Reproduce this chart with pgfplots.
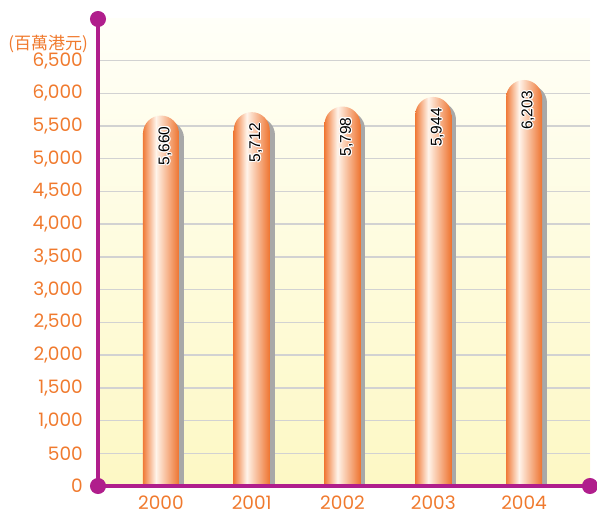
\documentclass[border=0pt]{standalone}
\usepackage{pgfplots}
\usepackage{pgfplotstable}
\pgfplotsset{compat=1.18}
\usepackage{fontspec}
\setmainfont{Poppins}
\newfontfamily\cjk{Noto Sans CJK TC}
\newfontfamily\lab{Liberation Sans}
\usepackage{contour}
\contourlength{1pt}
\usetikzlibrary{arrows.meta}

\definecolor{axc}{HTML}{B01E8C}
\definecolor{txc}{HTML}{F07A2E}
\definecolor{bL}{HTML}{F07A38}
\definecolor{bW}{HTML}{FFF4EA}
\definecolor{bR}{HTML}{EE7430}
\definecolor{shd}{HTML}{A8A8A8}
\definecolor{bgT}{HTML}{FFFFF8}
\definecolor{bgB}{HTML}{FDF8C4}
\definecolor{grd}{HTML}{D2D2D2}

\pgfdeclarehorizontalshading{barshade}{100bp}{color(0bp)=(bL); color(25bp)=(bL); color(43bp)=(bW); color(75bp)=(bR); color(100bp)=(bR)}

\pgfkeys{/pgf/number format/.cd,1000 sep={,},assume math mode=true}

\pgfplotsset{
  layers/mylayers/.define layer set={
    axis background,axis grid,axis ticks,pre main,main,axis lines,axis tick labels,
    axis descriptions,axis foreground
  }{
    grid style= {/pgfplots/on layer=axis grid},
    tick style= {/pgfplots/on layer=axis ticks},
    axis line style= {/pgfplots/on layer=axis lines},
    label style= {/pgfplots/on layer=axis descriptions},
    legend style= {/pgfplots/on layer=axis descriptions},
    title style= {/pgfplots/on layer=axis descriptions},
    colorbar style= {/pgfplots/on layer=axis descriptions},
    ticklabel style= {/pgfplots/on layer=axis tick labels},
    axis background@ style={/pgfplots/on layer=axis background},
    3d box foreground style={/pgfplots/on layer=axis foreground},
  },
  orbar/.style={ybar, bar width=36bp, bar shift=0pt, draw=none, shading=barshade, shade,
    nodes near coords={},
    every node near coord/.append style={circle, minimum size=36bp, inner sep=0pt, anchor=center, shading=barshade, shade}},
}

\pgfplotstableread{
x v
0 5660
1 5712
2 5798
3 5944
4 6203
}\data

\begin{document}
\begin{tikzpicture}
\begin{axis}[
  name=ax,
  set layers=mylayers,
  scale only axis,
  width=492bp, height=467bp,
  xmin=-0.694, xmax=4.727,
  ymin=0, ymax=7135,
  enlargelimits=false,
  axis lines*=left,
  axis line style={draw=axc, line width=3bp},
  x axis line style={{Circle[length=16bp,width=16bp]}-{Circle[length=16bp,width=16bp]}, shorten <=-8bp, shorten >=-8bp},
  y axis line style={-{Circle[length=16bp,width=16bp]}, shorten >=-8bp},
  axis background/.style={top color=bgT, bottom color=bgB},
  ymajorgrids,
  major grid style={draw=grd, line width=1.5bp},
  tick style={draw=none},
  xtick={0,...,4},
  xticklabels={2000,2001,2002,2003,2004},
  ytick={0,500,...,6500},
  scaled y ticks=false,
  tick label style={font=\fontsize{18.5bp}{20bp}\selectfont, text=txc, inner sep=0pt},
  yticklabel style={xshift=-15bp},
  xticklabel style={yshift=-10bp},
  ylabel={(百萬港元)},
  every axis y label/.style={at={(rel axis cs:0,0.9465)}, anchor=east, xshift=-10bp, inner sep=0pt, font=\cjk\fontsize{17bp}{18bp}\selectfont, text=txc},
]
% shadow: round-capped comb lines
\addplot[ycomb, draw=shd, line width=36bp, line cap=round, mark=none]
  table[x expr=\thisrow{x}+0.055, y expr=\thisrow{v}-351]{\data};
% orange bars
\pgfplotsinvokeforeach{0,...,4}{
  \addplot[orbar] table[x=x, y expr=\thisrow{v}-275, restrict x to domain=#1:#1]{\data};
}
% value labels
\addplot[draw=none, mark=none, point meta=explicit,
  nodes near coords={\contour{white}{\pgfmathprintnumber{\pgfplotspointmeta}}},
  every node near coord/.append style={inner sep=0pt, font=\lab\fontsize{15.5bp}{15.5bp}\selectfont, xshift=4.5bp, yshift=-11bp, rotate=90, anchor=east, text=black}]
  table[x=x, y=v, meta=v]{\data};
\end{axis}
\pgfresetboundingbox
\path[use as bounding box] (ax.south west) ++(-98bp,-30bp) rectangle ++(597bp,516bp);
\end{tikzpicture}
\end{document}
